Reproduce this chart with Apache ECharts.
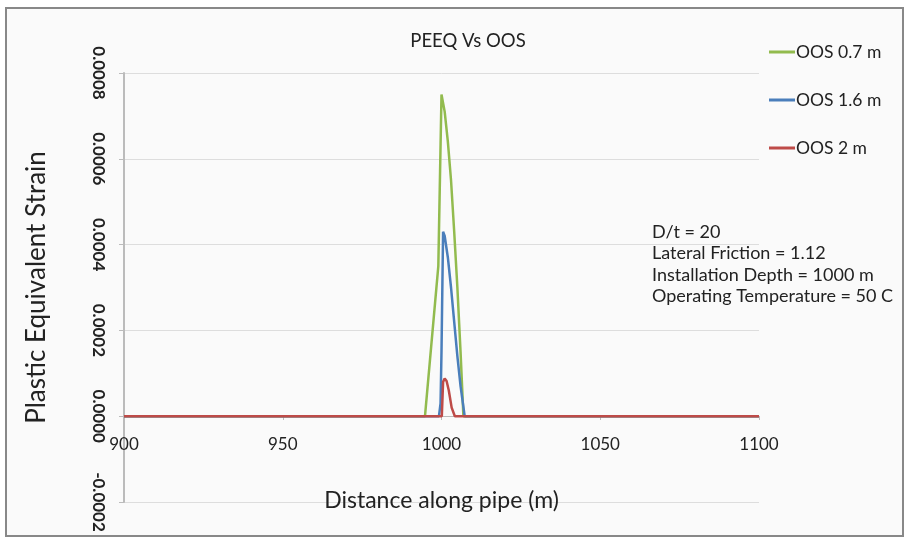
<!DOCTYPE html>
<html>
<head>
<meta charset="utf-8">
<script src="https://cdn.jsdelivr.net/npm/echarts@6/dist/echarts.min.js"></script>
<style>
html,body{margin:0;padding:0;background:#fff;}
#c{width:905px;height:538px;}
</style>
</head>
<body>
<div id="c"></div>
<script>
const titleText = 'PEEQ Vs OOS';
const xName = 'Distance along pipe (m)';
const yName = 'Plastic Equivalent Strain';
const seriesNames = ['OOS 0.7 m', 'OOS 1.6 m', 'OOS 2 m'];
const notes = ['D/t = 20', 'Lateral Friction = 1.12', 'Installation Depth = 1000 m', 'Operating Temperature = 50 C'];

const greenX = [900, 994.8, 999, 1000, 1001, 1002, 1003, 1004, 1005, 1006, 1006.9, 1100];
const greenY = [0, 0, 0.00035, 0.00075, 0.00071, 0.00064, 0.00055, 0.00043, 0.00030, 0.00015, 0, 0];

const blueX = [900, 999.2, 999.7, 1000, 1000.5, 1001, 1002, 1003, 1004, 1005, 1006, 1007.3, 1100];
const blueY = [0, 0, 0.00003, 0.00015, 0.00043, 0.00042, 0.00037, 0.00030, 0.00022, 0.00014, 0.00007, 0, 0];

const redX = [900, 1000.1, 1000.5, 1001, 1001.6, 1002.3, 1003.2, 1004.2, 1100];
const redY = [0, 0, 0.00008, 0.000088, 0.000082, 0.00006, 0.00002, 0, 0];

const colors = ['#92BB4E', '#4A7EBB', '#BE4B48'];
const zip = (xs, ys) => xs.map((x, i) => [x, ys[i]]);

const chart = echarts.init(document.getElementById('c'));
const font = 'Lato, "Open Sans", sans-serif';
chart.setOption({
  backgroundColor: '#fff',
  color: colors,
  animation: false,
  title: {
    text: titleText, left: 463, top: 27, textAlign: 'center',
    textStyle: { fontFamily: font, fontSize: 18.5, fontWeight: 'normal', color: '#222' }
  },
  legend: {
    orient: 'vertical', left: 764, top: 38, itemGap: 30, itemWidth: 26, itemHeight: 3,
    icon: 'rect',
    textStyle: { fontFamily: font, fontSize: 17.5, color: '#222', padding: [0, 0, 0, -4] },
    data: seriesNames
  },
  grid: { left: 124, right: 146, top: 73, bottom: 36, containLabel: false, outerBoundsMode: 'none' },
  xAxis: {
    type: 'value', min: 900, max: 1100, interval: 50,
    offset: -86,
    name: xName, nameLocation: 'middle', nameGap: 73,
    nameTextStyle: { fontFamily: font, fontSize: 23, color: '#222' },
    axisLine: { onZero: false, lineStyle: { color: '#bbb' } },
    axisTick: { show: true, length: 4, lineStyle: { color: '#bbb' } },
    axisLabel: { fontFamily: font, fontSize: 17, color: '#222', margin: 20, formatter: v => String(v) },
    splitLine: { show: false }
  },
  yAxis: {
    type: 'value', min: -0.0002, max: 0.0008, interval: 0.0002,
    name: yName, nameLocation: 'middle', nameGap: 74,
    nameTextStyle: { fontFamily: font, fontSize: 26, color: '#222' },
    axisLine: { show: true, onZero: false, lineStyle: { color: '#bbb', width: 2 } },
    axisTick: { show: true, length: 5, lineStyle: { color: '#bbb' } },
    axisLabel: {
      rotate: -90, fontFamily: font, fontSize: 17, fontWeight: 'bold', color: '#222', margin: 17,
      formatter: v => v.toFixed(4)
    },
    splitLine: { show: true, lineStyle: { color: '#ddd', width: 1 } }
  },
  graphic: [
    { type: 'rect', left: 5, top: 7, shape: { width: 897, height: 528 }, style: { fill: '#fafafa', stroke: '#888', lineWidth: 2 }, z: -10, silent: true },
    {
      type: 'text', left: 652, top: 221, z: 10,
      style: { text: notes.join('\n'), fontFamily: font, fontSize: 18, lineHeight: 21.5, fill: '#222' }
    }
  ],
  series: [
    { name: seriesNames[0], type: 'line', symbol: 'none', data: zip(greenX, greenY), lineStyle: { width: 2.5 }, z: 2 },
    { name: seriesNames[1], type: 'line', symbol: 'none', data: zip(blueX, blueY), lineStyle: { width: 2.5 }, z: 3 },
    { name: seriesNames[2], type: 'line', symbol: 'none', data: zip(redX, redY), lineStyle: { width: 2.5 }, z: 4 }
  ]
});
</script>
</body>
</html>
